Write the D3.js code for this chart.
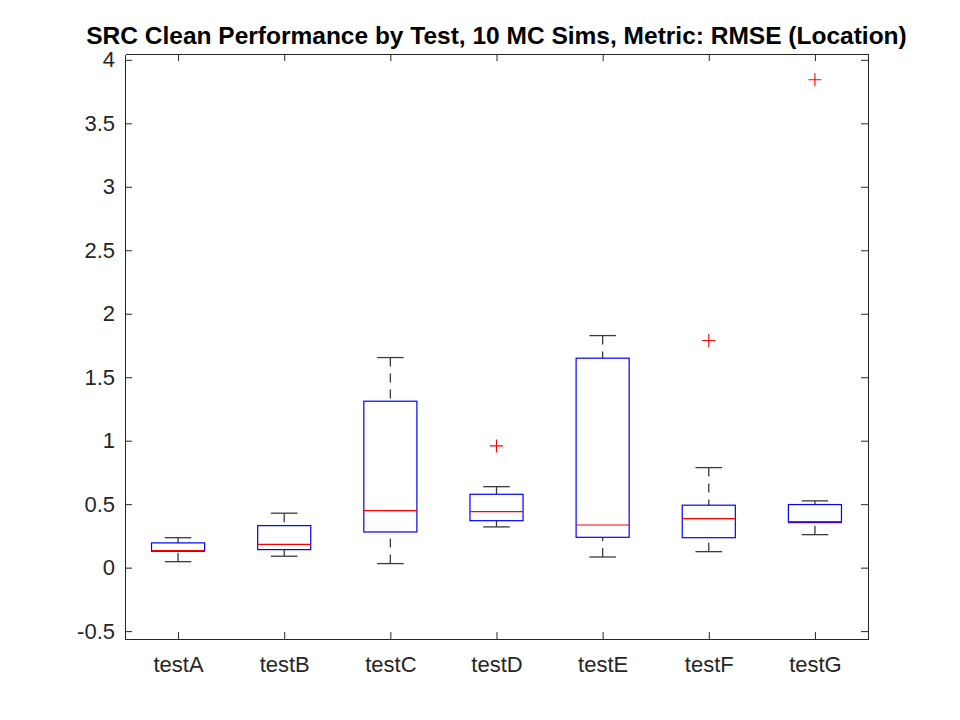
<!DOCTYPE html>
<html>
<head>
<meta charset="utf-8">
<style>
  body { margin: 0; background: #fff; }
  svg { display: block; font-family: "Liberation Sans", Arial, Helvetica, sans-serif; }
</style>
</head>
<body>
<script src="https://cdn.jsdelivr.net/npm/d3@7"></script>
<script>

// boxplot statistics, one entry per test
var categories = ["testA", "testB", "testC", "testD", "testE", "testF", "testG"];
var whiskerLow  = [0.047, 0.090, 0.032, 0.321, 0.084, 0.126, 0.260];
var q1          = [0.129, 0.142, 0.281, 0.370, 0.239, 0.236, 0.355];
var medians     = [0.134, 0.184, 0.449, 0.441, 0.336, 0.386, 0.362];
var q3          = [0.195, 0.331, 1.311, 0.578, 1.650, 0.492, 0.497];
var whiskerHigh = [0.236, 0.429, 1.655, 0.638, 1.828, 0.788, 0.526];
var outlierCats = ["testD", "testF", "testG"];
var outlierVals = [0.959, 1.789, 3.843];
var yTicks = [-0.5, 0, 0.5, 1, 1.5, 2, 2.5, 3, 3.5, 4];
var yLimits = [-0.562, 4.046];

var title = "SRC Clean Performance by Test, 10 MC Sims, Metric: RMSE (Location)";

var W = 960, H = 720;
// plot box edges (note: "top" is taken by window.top, so use other names)
var axL = 125, axR = 868, axT = 54, axB = 639;
var axisColor = "#262626";

var svg = d3.select("body").append("svg")
    .attr("width", W)
    .attr("height", H);

svg.append("rect").attr("width", W).attr("height", H).attr("fill", "#fff");

var x = d3.scalePoint().domain(categories).range([axL, axR]).padding(0.5);
var y = d3.scaleLinear().domain(yLimits).range([axB, axT]);
var step = x.step();

// axes, MATLAB style: ticks inward on all four sides
function styleAxis(g) {
    g.selectAll("path").attr("stroke", axisColor).attr("stroke-width", 1);
    g.selectAll("line").attr("stroke", axisColor).attr("stroke-width", 1);
    g.selectAll("text").attr("fill", axisColor).style("font-size", "22px");
}

svg.append("g")
    .attr("transform", "translate(" + axL + ",0)")
    .call(d3.axisLeft(y).tickValues(yTicks).tickSize(-7).tickSizeOuter(0)
        .tickPadding(10).tickFormat(function(d) { return String(d); }))
    .call(styleAxis);

svg.append("g")
    .attr("transform", "translate(" + axR + ",0)")
    .call(d3.axisRight(y).tickValues(yTicks).tickSize(-7).tickSizeOuter(0).tickFormat(""))
    .call(styleAxis);

svg.append("g")
    .attr("transform", "translate(0," + axB + ")")
    .call(d3.axisBottom(x).tickSize(-7).tickSizeOuter(0).tickPadding(17))
    .call(styleAxis);

svg.append("g")
    .attr("transform", "translate(0," + axT + ")")
    .call(d3.axisTop(x).tickSize(-7).tickSizeOuter(0).tickFormat(""))
    .call(styleAxis);

svg.selectAll(".domain").attr("shape-rendering", "crispEdges");

var stats = categories.map(function(c, i) {
    return { cat: c, lo: whiskerLow[i], q1: q1[i], med: medians[i], q3: q3[i], hi: whiskerHigh[i] };
});

var boxes = svg.append("g").attr("class", "boxes")
    .selectAll("g").data(stats).enter().append("g");

// whiskers drawn from the cap toward the box, dashed
boxes.append("line")
    .attr("x1", function(d) { return x(d.cat); })
    .attr("x2", function(d) { return x(d.cat); })
    .attr("y1", function(d) { return y(d.hi); })
    .attr("y2", function(d) { return y(d.q3); });
boxes.append("line")
    .attr("x1", function(d) { return x(d.cat); })
    .attr("x2", function(d) { return x(d.cat); })
    .attr("y1", function(d) { return y(d.lo); })
    .attr("y2", function(d) { return y(d.q1); });
boxes.selectAll("line")
    .attr("stroke", "#3a3a3a")
    .attr("stroke-width", 1.3)
    .attr("stroke-dasharray", "9,7");

// whisker caps
["hi", "lo"].forEach(function(k) {
    boxes.append("line")
        .attr("x1", function(d) { return x(d.cat) - step * 0.125; })
        .attr("x2", function(d) { return x(d.cat) + step * 0.125; })
        .attr("y1", function(d) { return y(d[k]); })
        .attr("y2", function(d) { return y(d[k]); })
        .attr("stroke", "#3a3a3a")
        .attr("stroke-width", 1.3);
});

boxes.append("rect")
    .attr("x", function(d) { return x(d.cat) - step * 0.25; })
    .attr("width", step * 0.5)
    .attr("y", function(d) { return y(d.q3); })
    .attr("height", function(d) { return y(d.q1) - y(d.q3); })
    .attr("fill", "none")
    .attr("stroke", "#0000ff")
    .attr("stroke-width", 1.2);

boxes.append("line")
    .attr("x1", function(d) { return x(d.cat) - step * 0.25; })
    .attr("x2", function(d) { return x(d.cat) + step * 0.25; })
    .attr("y1", function(d) { return y(d.med); })
    .attr("y2", function(d) { return y(d.med); })
    .attr("stroke", "#ff0000")
    .attr("stroke-width", 1.2);

// outliers as red plus markers
var half = 6.5;
svg.append("g").selectAll("path")
    .data(outlierCats.map(function(c, i) { return { cat: c, v: outlierVals[i] }; }))
    .enter().append("path")
    .attr("d", function(d) {
        var cx = x(d.cat), cy = y(d.v);
        return "M" + (cx - half) + "," + cy + "H" + (cx + half) +
               "M" + cx + "," + (cy - half) + "V" + (cy + half);
    })
    .attr("stroke", "#ff0000")
    .attr("stroke-width", 1.1)
    .attr("fill", "none");

svg.append("text")
    .attr("x", (axL + axR) / 2)
    .attr("y", 44)
    .attr("text-anchor", "middle")
    .style("font-size", "24.5px")
    .style("font-weight", "bold")
    .attr("fill", "#000")
    .text(title);

</script>
</body>
</html>
